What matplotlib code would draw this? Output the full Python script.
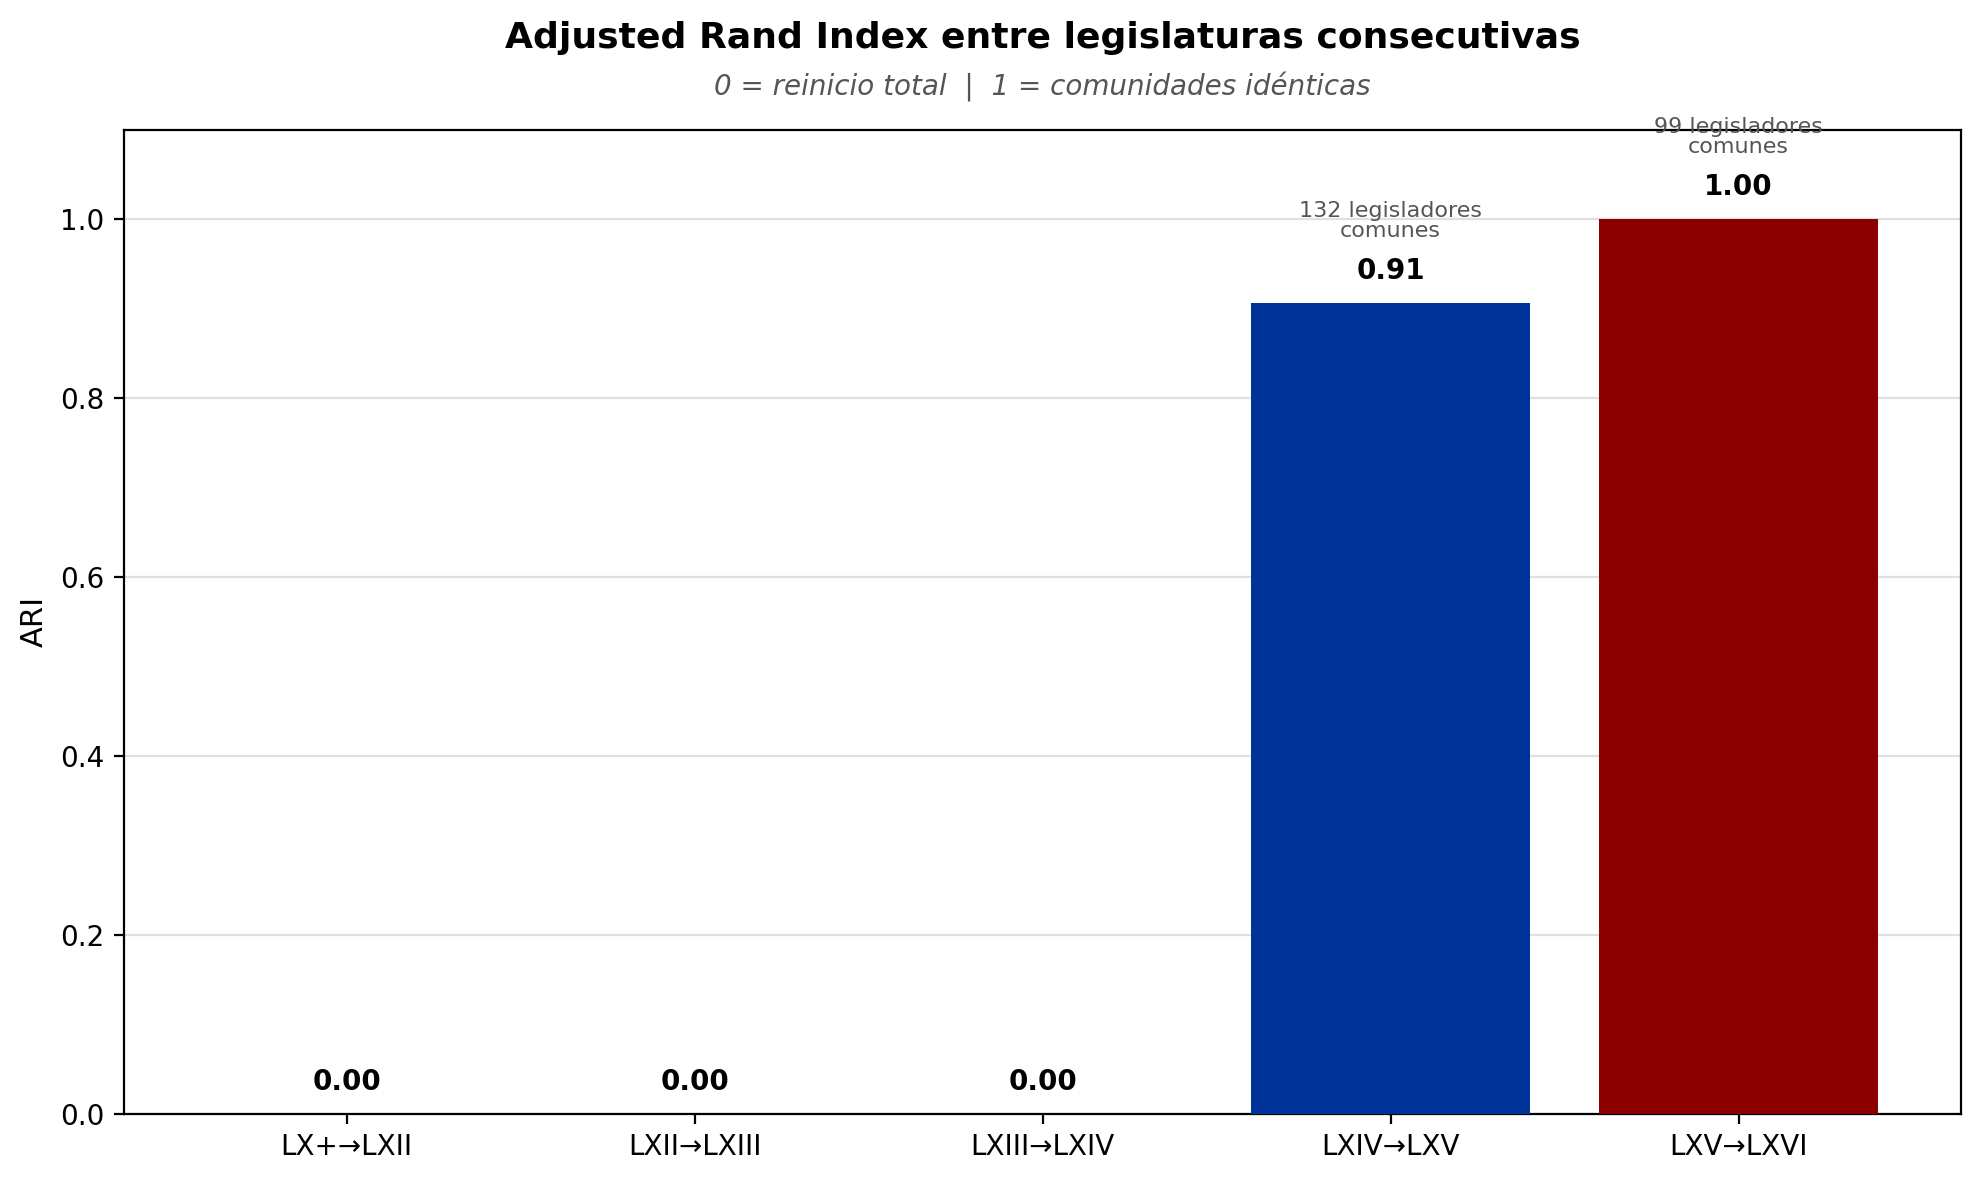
import matplotlib
matplotlib.use("Agg")
import matplotlib.pyplot as plt

categories = ["LX+→LXII", "LXII→LXIII", "LXIII→LXIV", "LXIV→LXV", "LXV→LXVI"]
ari = [0.0, 0.0, 0.0, 0.906, 1.0]
comunes = [None, None, None, 132, 99]
colors = ["#003399", "#003399", "#003399", "#003399", "#8B0000"]

fig = plt.figure(figsize=(1979/200, 1180/200), dpi=200)
ax = fig.add_axes([0.0627, 0.0560, 0.9283, 0.8340])

x = range(len(categories))
bars = ax.bar(x, ari, width=0.8, color=colors, zorder=3)
ax.set_xticks(list(x))
ax.set_xticklabels(categories, fontsize=10)
ax.set_ylim(0, 1.1)
ax.set_ylabel("ARI", fontsize=11)
ax.yaxis.grid(True, color="#e0e0e0", linewidth=0.8, zorder=0)
ax.set_axisbelow(True)
ax.tick_params(axis="y", labelsize=10)

for i, v in enumerate(ari):
    ax.text(i, v + 0.02, f"{v:.2f}", ha="center", va="bottom", fontsize=10, fontweight="bold")
    if comunes[i] is not None:
        ax.text(i, v + 0.07, f"{comunes[i]} legisladores\ncomunes", ha="center", va="bottom",
                fontsize=8, color="#555555", linespacing=1.0)

cx = 0.0627 + 0.9283 / 2
fig.text(cx, 0.968, "Adjusted Rand Index entre legislaturas consecutivas", ha="center", va="center",
         fontsize=13, fontweight="bold")
fig.text(cx, 0.926, "0 = reinicio total  |  1 = comunidades idénticas", ha="center", va="center",
         fontsize=10, style="italic", color="#555555")

fig.savefig("out.png", dpi=200)
